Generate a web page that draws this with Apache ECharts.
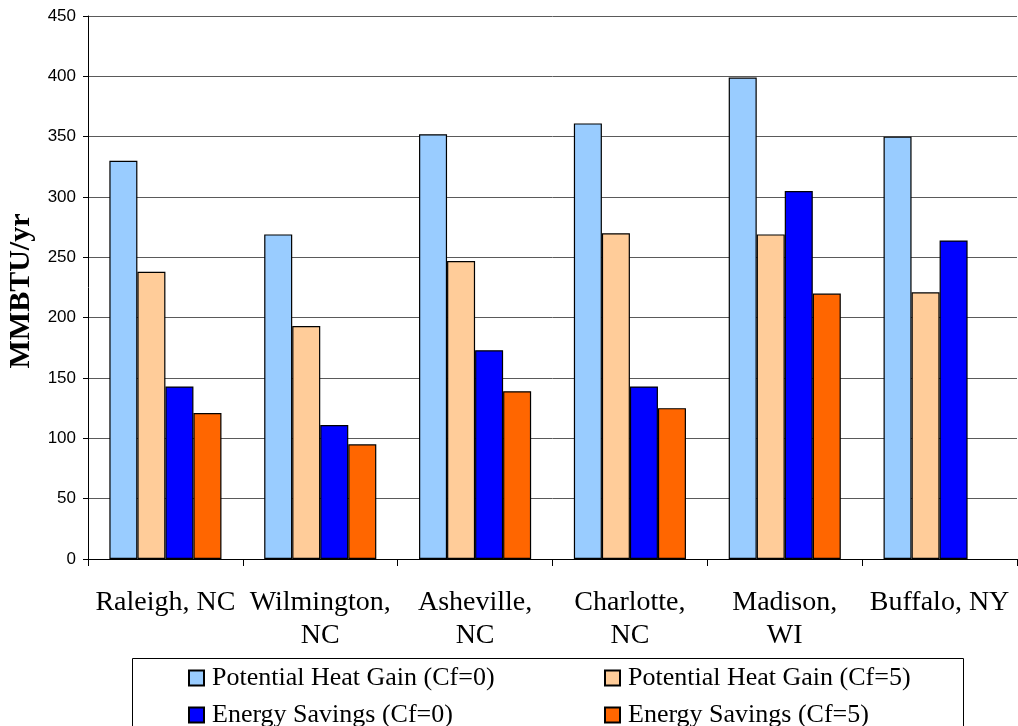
<!DOCTYPE html>
<html>
<head>
<meta charset="utf-8">
<title>MMBTU/yr by city</title>
<script src="https://cdn.jsdelivr.net/npm/echarts@6/dist/echarts.min.js"></script>
<style>
  html, body { margin: 0; padding: 0; background: #ffffff; }
  #chart { width: 1018px; height: 726px; }
</style>
</head>
<body>
<div id="chart"></div>
<script>
// Cities on the category axis
const cities = ['Raleigh, NC', 'Wilmington,\nNC', 'Asheville,\nNC', 'Charlotte,\nNC', 'Madison,\nWI', 'Buffalo, NY'];

// Series values, MMBTU/yr
const heatGainCf0 = [330, 269, 352, 361, 399, 350];
const heatGainCf5 = [238, 193, 247, 270, 269, 221];
const savingsCf0  = [143, 111, 173, 143, 305, 264];
const savingsCf5  = [121, 95, 139, 125, 220, null];

const seriesNames = [
  'Potential Heat Gain (Cf=0)',
  'Potential Heat Gain (Cf=5)',
  'Energy Savings (Cf=0)',
  'Energy Savings (Cf=5)'
];

// Value axis ticks
const yMin = 0, yMax = 450, yStep = 50;

const colors = ['#99CCFF', '#FFCC99', '#0000FF', '#FF6600'];
const values = [heatGainCf0, heatGainCf5, savingsCf0, savingsCf5];

const serif = '"Liberation Serif", "Times New Roman", serif';
const sans = '"Liberation Sans", Arial, sans-serif';

const chart = echarts.init(document.getElementById('chart'), null, { renderer: 'canvas' });

const series = seriesNames.map((name, i) => ({
  name: name,
  type: 'bar',
  data: values[i],
  barGap: '0%',
  barCategoryGap: '27.6%',
  itemStyle: { color: colors[i], borderColor: '#000000', borderWidth: 1.2 },
  emphasis: { disabled: true },
  animation: false
}));

// Legend laid out as two columns by two rows, one entry per legend block
const legendSlots = [
  { left: 188, top: 665 },
  { left: 604, top: 665 },
  { left: 188, top: 702 },
  { left: 604, top: 702 }
];

const legends = seriesNames.map((name, i) => ({
  data: [name],
  orient: 'horizontal',
  left: legendSlots[i].left,
  top: legendSlots[i].top,
  itemWidth: 15, itemHeight: 15,
  icon: 'rect',
  padding: 0,
  selectedMode: false,
  textStyle: {
    fontFamily: serif, fontSize: 26, color: '#000000',
    lineHeight: 26, padding: [0, 0, 0, 3]
  }
}));

chart.setOption({
  backgroundColor: '#ffffff',
  animation: false,
  grid: { left: 88, right: 1, top: 16, bottom: 167, containLabel: false, outerBoundsMode: 'none' },
  xAxis: {
    type: 'category',
    data: cities,
    axisLine: { show: true, lineStyle: { color: '#000000', width: 1 } },
    axisTick: { show: true, length: 7, lineStyle: { color: '#000000' } },
    axisLabel: {
      fontFamily: serif, fontSize: 28, color: '#000000',
      margin: 27, lineHeight: 33, interval: 0
    },
    splitLine: { show: false }
  },
  yAxis: {
    type: 'value',
    min: yMin, max: yMax, interval: yStep,
    name: 'MMBTU/yr',
    nameLocation: 'middle',
    nameGap: 52,
    nameRotate: 90,
    nameTextStyle: { fontFamily: serif, fontSize: 30, fontWeight: 'bold', color: '#000000', padding: [0, 7, 0, 0] },
    axisLine: { show: true, lineStyle: { color: '#000000', width: 1 } },
    axisTick: { show: true, inside: false, length: 5, lineStyle: { color: '#000000' } },
    axisLabel: { fontFamily: sans, fontSize: 17, color: '#000000', margin: 12 },
    splitLine: { show: true, lineStyle: { color: '#5a5a5a', width: 1 } }
  },
  legend: legends,
  graphic: [
    {
      type: 'rect',
      shape: { x: 132.5, y: 658.5, width: 831, height: 80 },
      style: { fill: 'none', stroke: '#000000', lineWidth: 1 },
      z: -1,
      silent: true
    }
  ],
  series: series
});
</script>
</body>
</html>
